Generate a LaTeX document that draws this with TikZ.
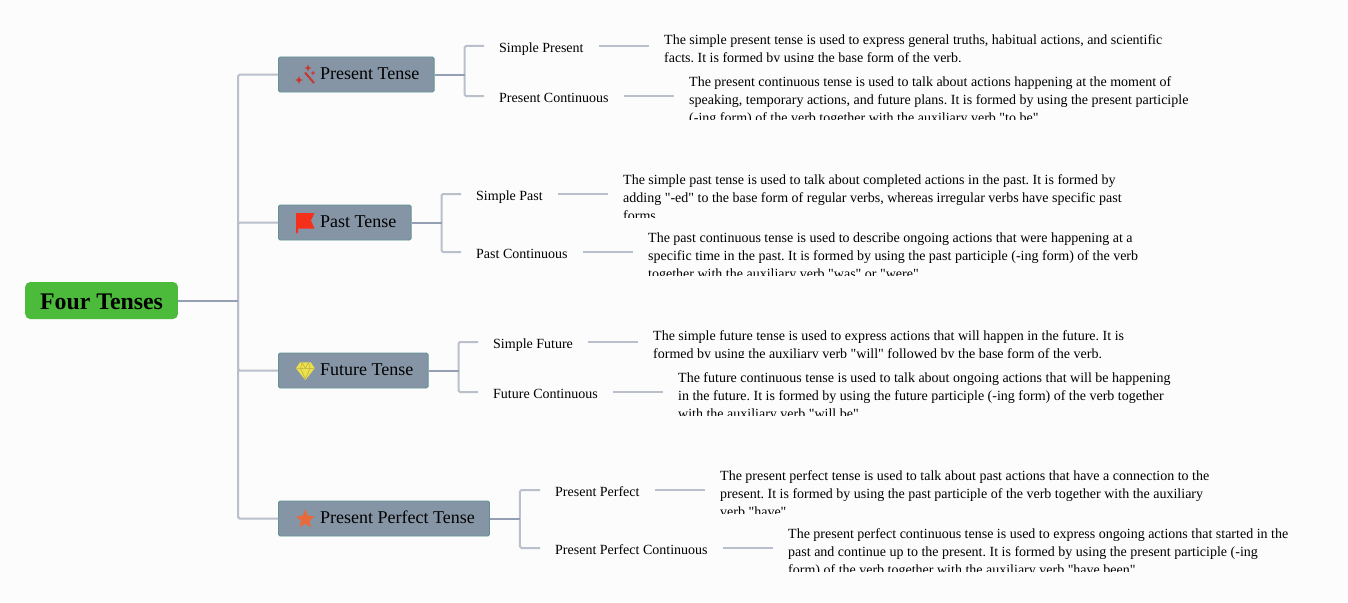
\documentclass[tikz,border=0pt]{standalone}
\usepackage{fontspec}
\setmainfont[Ligatures=TeXOff]{Liberation Serif}
\usetikzlibrary{shapes.geometric}
\definecolor{TenseBack}{HTML}{FCFCFD}
\definecolor{TenseGreen}{HTML}{4CBB3C}
\definecolor{TenseSlate}{HTML}{8695A6}
\definecolor{TenseEdge}{HTML}{5F9490}
\definecolor{TenseBranch}{HTML}{949FB3}
\definecolor{TenseTwig}{HTML}{B9BFCB}
\definecolor{TenseWand}{HTML}{C8372D}
\definecolor{TenseFlag}{HTML}{F5301A}
\definecolor{TenseGem}{HTML}{EEE04A}
\definecolor{TenseFacet}{HTML}{B5B04A}
\definecolor{TenseStar}{HTML}{E8693A}
\newcommand{\descnode}[5]{%
  \begin{scope}
    \clip (#2,#3) ++(0,-#4/2) rectangle ++(700,#4-0.5);
    \node[descr] (#1) at (#2,#3) {\parbox[c][#4pt][t]{560pt}{\frenchspacing\vspace*{4.5pt}#5}};
  \end{scope}}

\begin{document}
\begin{tikzpicture}[
      x=1pt,y=-1pt,
      root/.style={draw=none,fill=TenseGreen,rounded corners=5pt,anchor=west,text=black,
        minimum height=37pt,inner xsep=15pt,inner ysep=0pt,font=\fontsize{23.8}{28}\selectfont\bfseries,
        text height=18pt,text depth=0pt},
      topic/.style={draw=TenseEdge,line width=0.9pt,fill=TenseSlate,rounded corners=1.5pt,anchor=west,text=black,
        minimum height=35pt,inner xsep=14.7pt,inner ysep=0pt,font=\fontsize{18}{22}\selectfont,
        text height=14pt,text depth=4pt,execute at begin node={\hspace*{27pt}}},
      leaf/.style={anchor=west,inner xsep=15pt,inner ysep=0pt,font=\fontsize{14}{18}\selectfont,
        text height=16pt,text depth=3.5pt},
      descr/.style={anchor=west,inner xsep=15pt,inner ysep=0pt,font=\fontsize{14}{18}\selectfont},
      spark/.style={star,star points=4,star point ratio=2.6,fill=TenseWand,inner sep=0pt},
      branch/.style={draw=TenseBranch,line width=2pt},
      twig/.style={draw=TenseTwig,line width=2pt,rounded corners=1.5pt}
    ]
    \fill[TenseBack] (0,0) rectangle (1348,602);
    \useasboundingbox (0,0) rectangle (1348,602);

    \node[root] (four) at (25,300.5) {Four Tenses};
    \node[topic] (present) at (278,74.5) {Present Tense};
    \node[topic] (past) at (278,222.5) {Past Tense};
    \node[topic] (future) at (278,370.5) {Future Tense};
    \node[topic] (perfect) at (278,518.5) {Present Perfect Tense};

    \node[leaf] (simplepresent) at (484,46) {Simple Present};
    \node[leaf] (prescont) at (484,96) {Present Continuous};
    \node[leaf] (simplepast) at (461,194) {Simple Past};
    \node[leaf] (pastcont) at (461,252) {Past Continuous};
    \node[leaf] (simplefuture) at (478,342) {Simple Future};
    \node[leaf] (futcont) at (478,392) {Future Continuous};
    \node[leaf] (presperf) at (540,490) {Present Perfect};
    \node[leaf] (perfcont) at (540,548) {Present Perfect Continuous};

    \descnode{dsimplepresent}{649}{46}{32}{The simple present tense is used to express general truths, habitual actions, and scientific\\
      facts. It is formed by using the base form of the verb.}
    \descnode{dprescont}{674}{96}{48}{The present continuous tense is used to talk about actions happening at the moment of\\
      speaking, temporary actions, and future plans. It is formed by using the present participle\\
      (-ing form) of the verb together with the auxiliary verb "to be".}
    \descnode{dsimplepast}{608}{194}{48}{The simple past tense is used to talk about completed actions in the past. It is formed by\\
      adding "-ed" to the base form of regular verbs, whereas irregular verbs have specific past\\
      forms.}
    \descnode{dpastcont}{633}{252}{48}{The past continuous tense is used to describe ongoing actions that were happening at a\\
      specific time in the past. It is formed by using the past participle (-ing form) of the verb\\
      together with the auxiliary verb "was" or "were".}
    \descnode{dsimplefuture}{638}{342}{32}{The simple future tense is used to express actions that will happen in the future. It is\\
      formed by using the auxiliary verb "will" followed by the base form of the verb.}
    \descnode{dfutcont}{663}{392}{48}{The future continuous tense is used to talk about ongoing actions that will be happening\\
      in the future. It is formed by using the future participle (-ing form) of the verb together\\
      with the auxiliary verb "will be".}
    \descnode{dpresperf}{705}{490}{48}{The present perfect tense is used to talk about past actions that have a connection to the\\
      present. It is formed by using the past participle of the verb together with the auxiliary\\
      verb "have".}
    \descnode{dperfcont}{773}{548}{48}{The present perfect continuous tense is used to express ongoing actions that started in the\\
      past and continue up to the present. It is formed by using the present participle (-ing\\
      form) of the verb together with the auxiliary verb "have been".}

    \draw[twig] (four.east) ++(60,0) coordinate (fourfork) |- (present.west);
    \draw[twig] (fourfork) |- (past.west);
    \draw[twig] (fourfork) |- (future.west);
    \draw[twig] (fourfork) |- (perfect.west);
    \draw[branch] (four.east) -- (fourfork);

    \draw[twig] (present.east) ++(30,0) coordinate (presentfork) |- (simplepresent.west);
    \draw[twig] (presentfork) |- (prescont.west);
    \draw[branch] (present.east) -- (presentfork);
    \draw[twig] (past.east) ++(30,0) coordinate (pastfork) |- (simplepast.west);
    \draw[twig] (pastfork) |- (pastcont.west);
    \draw[branch] (past.east) -- (pastfork);
    \draw[twig] (future.east) ++(30,0) coordinate (futurefork) |- (simplefuture.west);
    \draw[twig] (futurefork) |- (futcont.west);
    \draw[branch] (future.east) -- (futurefork);
    \draw[twig] (perfect.east) ++(30,0) coordinate (perfectfork) |- (presperf.west);
    \draw[twig] (perfectfork) |- (perfcont.west);
    \draw[branch] (perfect.east) -- (perfectfork);

    \draw[twig] (simplepresent.east) -- (dsimplepresent.west);
    \draw[twig] (prescont.east) -- (dprescont.west);
    \draw[twig] (simplepast.east) -- (dsimplepast.west);
    \draw[twig] (pastcont.east) -- (dpastcont.west);
    \draw[twig] (simplefuture.east) -- (dsimplefuture.west);
    \draw[twig] (futcont.east) -- (dfutcont.west);
    \draw[twig] (presperf.east) -- (dpresperf.west);
    \draw[twig] (perfcont.east) -- (dperfcont.west);

    \draw[TenseWand,line width=2pt] (305,72.5) -- (314,83);
    \node[spark,minimum size=8pt] (sparka) at (299,80) {};
    \node[spark,minimum size=7pt] (sparkb) at (308,68) {};
    \node[spark,minimum size=5pt] (sparkc) at (313,73) {};

    \fill[TenseFlag] (296,213) -- (314.5,213) -- (311,220.5) -- (314.5,228.5) -- (298,228.5)
      -- (298,232) -- (297,234) -- (296,232) -- cycle;

    \fill[TenseGem] (300,362.3) -- (310.7,362.3) -- (314.7,368.3) -- (305.3,380) -- (296,368.3) -- cycle;
    \draw[TenseFacet,line width=0.5pt] (296.5,368.3) -- (314.2,368.3)
      (302,362.5) -- (300.5,368.3) -- (305.3,379) -- (310,368.3) -- (308.7,362.5)
      (302,362.5) -- (305.3,368.3) -- (308.7,362.5);

    \node[star,star points=5,star point ratio=2.2,fill=TenseStar,inner sep=0pt,minimum size=19.5pt] (starmark) at (305.3,519.3) {};
  \end{tikzpicture}
\end{document}
